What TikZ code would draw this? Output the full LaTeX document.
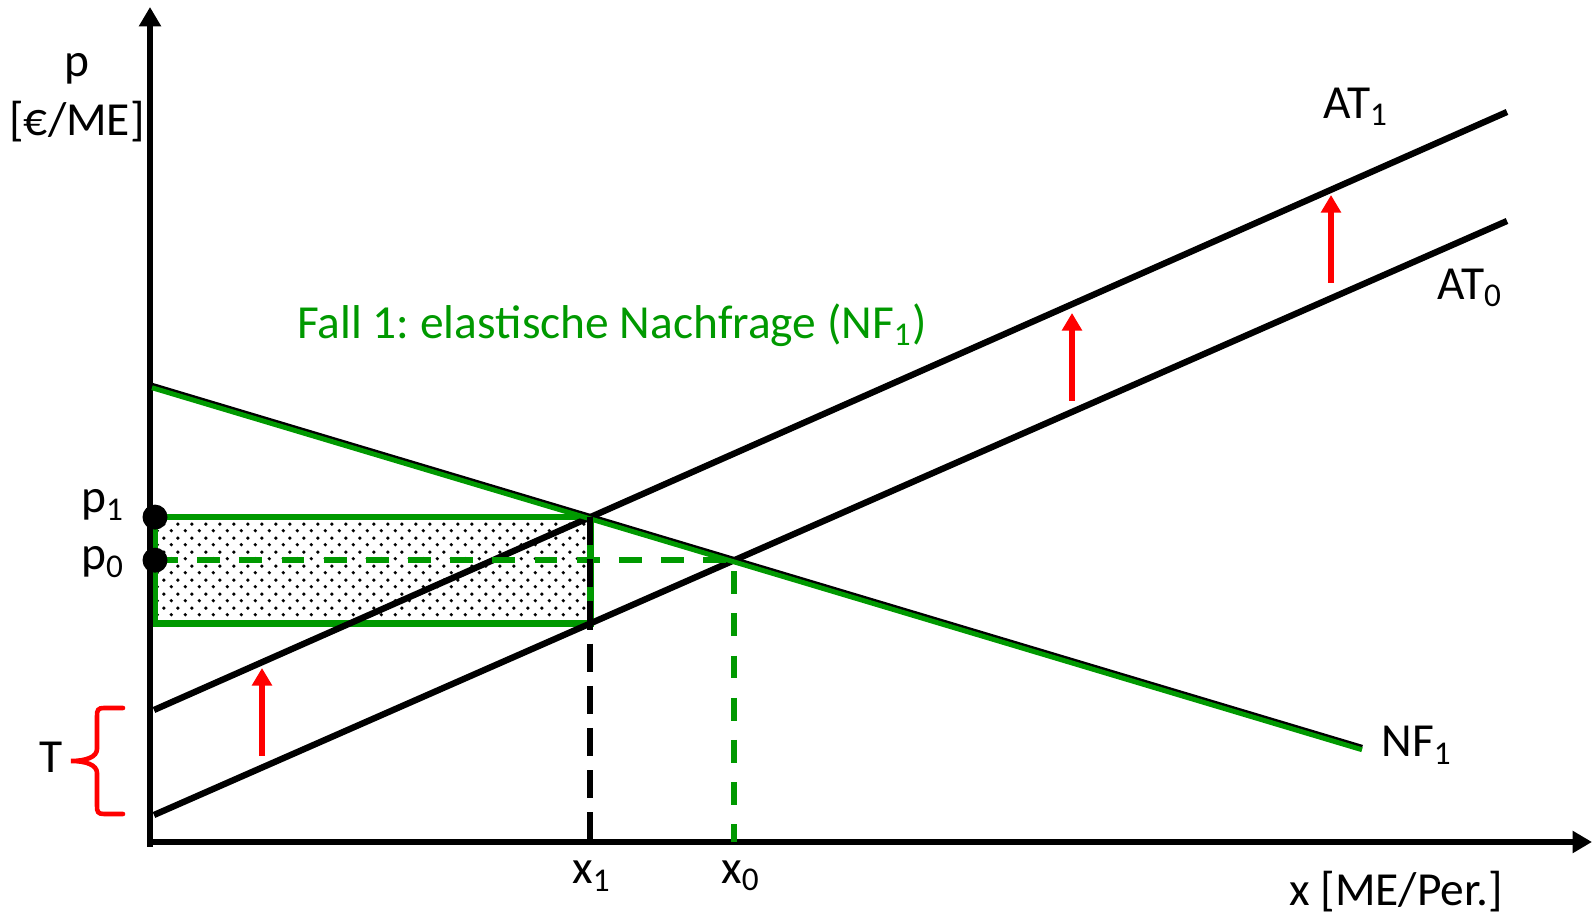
\documentclass[tikz,border=0pt]{standalone}
\usepackage{fontspec}
\setmainfont{Carlito}
\usepackage{tikz}
\usetikzlibrary{arrows.meta,patterns.meta}
\definecolor{nfgreen}{HTML}{009900}
\definecolor{shiftred}{HTML}{FF0000}
\tikzset{axis/.style={-{Triangle[length=5.5pt,width=6pt]},line width=1.9pt},
curve/.style={line width=1.8pt},
shiftarrow/.style={-{Triangle[length=5pt,width=5.5pt]},line width=1.6pt,shiftred},
guide/.style={dash pattern=on 6.5pt off 5.5pt,line width=1.7pt},
lbl/.style={font=\fontsize{13.5}{16}\selectfont\frenchspacing}}
\tikzdeclarepattern{name=taxdots,type=uncolored,
  bottom left={(0pt,0pt)},top right={(4pt,4pt)},tile size={(4pt,4pt)},
  code={\fill (1pt,1pt) circle (0.55pt); \fill (3pt,3pt) circle (0.55pt);}}

\begin{document}
\begin{tikzpicture}[every node/.style={lbl}]
\useasboundingbox (0,0) rectangle (15.93,9.13);
\coordinate (O) at (1.50,0.71);
\coordinate (Yax) at (1.55,0.71);
\coordinate (A0s) at (1.54,0.98); \coordinate (A0e) at (15.07,6.92);
\coordinate (A1s) at (1.54,2.03); \coordinate (A1e) at (15.07,8.01);
\coordinate (Ns) at (1.52,5.27); \coordinate (Ne) at (13.62,1.65);
\coordinate (X0) at (intersection of A0s--A0e and Ns--Ne);
\coordinate (X1) at (intersection of A1s--A1e and Ns--Ne);
\coordinate (X0a) at (X0 |- O);
\coordinate (X1a) at (X1 |- O);
\coordinate (R) at (intersection of A0s--A0e and X1--X1a);
\coordinate (P1) at (Yax |- X1);
\coordinate (P0) at (Yax |- X0);
% Steueraufkommen
\draw[nfgreen,line width=1.8pt,pattern={taxdots},pattern color=black] (P1) rectangle (R);
% Achsen
\draw[axis] (1.47,0.71)--(15.92,0.71);
\draw[axis] (1.50,0.66)--(1.50,9.06);
\node (xlab) at (13.96,0.21) {x [ME/Per.]};
\node (plab) at (0.77,8.44) {p};
\node (punit) at (0.77,7.91) {[€/ME]};
% Angebot und Nachfrage
\draw[curve] (A0s)--(A0e);
\draw[curve] (A1s)--(A1e);
\draw[curve] (Ns)--(Ne);
\draw[nfgreen,line width=1.4pt] ([yshift=-0.5pt]Ns)--([yshift=-0.5pt]Ne);
\node (at1) at (13.56,8.06) {AT\textsubscript{1}};
\node (at0) at (14.70,6.25) {AT\textsubscript{0}};
\node (nf1) at (14.17,1.68) {NF\textsubscript{1}};
\node[nfgreen] (fall) at (6.12,5.88) {Fall 1: elastische Nachfrage (NF\textsubscript{1})};
% Hilfslinien
\draw[guide,nfgreen] (P0)--(X0)--(X0a);
\draw[guide,black,dash pattern=on 8pt off 4pt] (X1)--(X1a);
\fill (P1) circle (0.125);
\fill (P0) circle (0.125);
\node (p1) at (1.03,4.08) {p\textsubscript{1}};
\node (p0) at (1.03,3.51) {p\textsubscript{0}};
\node (x1) at (5.92,0.37) {x\textsubscript{1}};
\node (x0) at (7.41,0.37) {x\textsubscript{0}};
% Verschiebung um T
\draw[shiftarrow] (2.62,1.57)--(2.62,2.45);
\draw[shiftarrow] (10.72,5.12)--(10.72,6.00);
\draw[shiftarrow] (13.31,6.30)--(13.31,7.18);
\draw[shiftred,line width=1.3pt,line cap=round] (1.23,2.05) -- (1.04,2.05)
  .. controls (0.98,2.05) and (0.97,2.03) .. (0.97,1.97) -- (0.97,1.64)
  .. controls (0.97,1.56) and (0.86,1.52) .. (0.71,1.52)
  .. controls (0.86,1.52) and (0.97,1.48) .. (0.97,1.40) -- (0.97,1.07)
  .. controls (0.97,1.01) and (0.98,0.99) .. (1.04,0.99) -- (1.23,0.99);
\node (tlab) at (0.51,1.56) {T};
\end{tikzpicture}
\end{document}
